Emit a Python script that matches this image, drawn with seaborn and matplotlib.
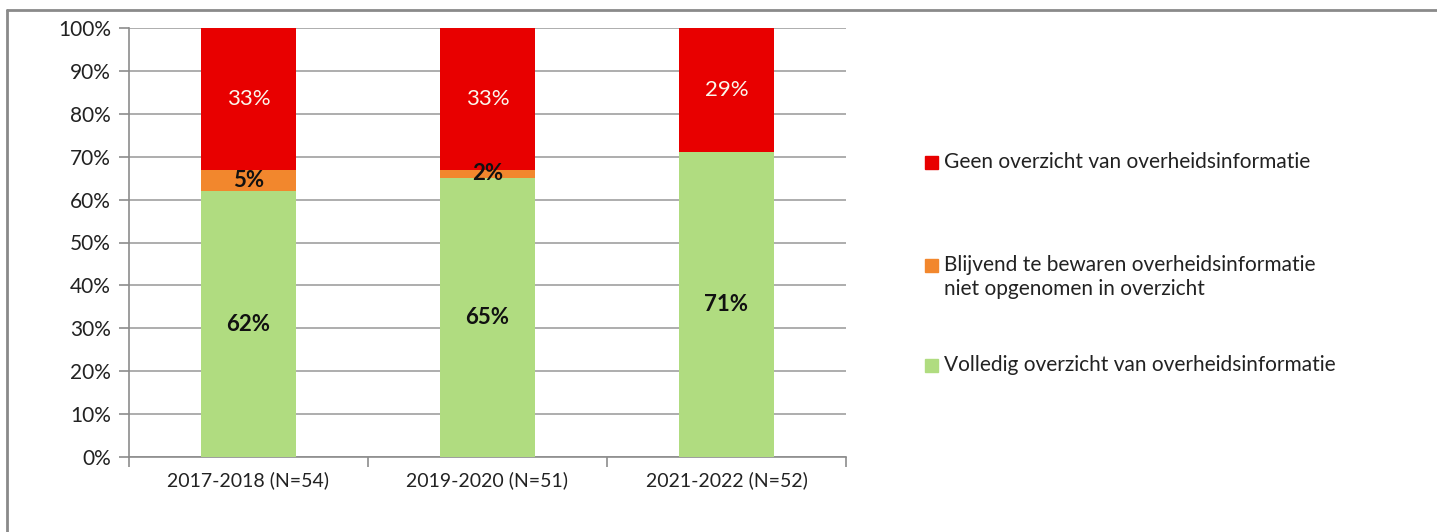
import matplotlib
matplotlib.use("Agg")
import matplotlib.pyplot as plt
import seaborn as sns
import pandas as pd
from matplotlib.patches import Rectangle
from matplotlib.lines import Line2D

# data
periods = ["2017-2018 (N=54)", "2019-2020 (N=51)", "2021-2022 (N=52)"]
volledig = [62, 65, 71]
blijvend = [5, 2, 0]
geen = [33, 33, 29]
series_labels = [
    "Geen overzicht van overheidsinformatie",
    "Blijvend te bewaren overheidsinformatie\nniet opgenomen in overzicht",
    "Volledig overzicht van overheidsinformatie",
]
colors = ["#e80000", "#f2872d", "#b0dc80"]
yticks = list(range(0, 101, 10))

sns.set_theme(style="white")
plt.rcParams["font.family"] = ["Lato", "DejaVu Sans"]

df = pd.DataFrame({"period": periods, "volledig": volledig,
                   "blijvend": blijvend, "geen": geen})
df["top_blijvend"] = df["volledig"] + df["blijvend"]
df["top_geen"] = df["top_blijvend"] + df["geen"]

fig = plt.figure(figsize=(14.37, 5.32), dpi=100)
ax = fig.add_axes([129 / 1437, 1 - 457 / 532, (846 - 129) / 1437, (457 - 28) / 532])

# stacked bars: draw cumulative totals from top down
for col, c in zip(["top_geen", "top_blijvend", "volledig"], colors):
    sns.barplot(data=df, x="period", y=col, color=c, width=0.4,
                saturation=1, linewidth=0, ax=ax, zorder=3)

ax.set_ylim(0, 100)
ax.set_xlim(-0.5, 2.5)
ax.set_yticks(yticks)
ax.set_yticklabels([f"{t}%" for t in yticks])
ax.set_xlabel("")
ax.set_ylabel("")
ax.yaxis.grid(True, color="#a0a0a0", linewidth=1.2, zorder=0)
ax.set_axisbelow(True)

for s in ["top", "right"]:
    ax.spines[s].set_visible(False)
for s in ["left", "bottom"]:
    ax.spines[s].set_color("#8c8c8c")
    ax.spines[s].set_linewidth(1.2)

ax.tick_params(axis="y", length=7, color="#8c8c8c", width=1.2, left=True,
               labelsize=15, pad=6, labelcolor="#222222")
# x ticks at category borders, labels in the middle
ax.set_xticks([0, 1, 2])
ax.set_xticks([-0.5, 0.5, 1.5, 2.5], minor=True)
ax.tick_params(axis="x", which="major", length=0, labelsize=14, pad=10,
               labelcolor="#222222")
ax.tick_params(axis="x", which="minor", length=7, color="#8c8c8c", width=1.2,
               bottom=True)

# value labels
for i in range(len(periods)):
    ax.text(i, volledig[i] / 2, f"{volledig[i]}%", ha="center", va="center",
            fontsize=16, fontweight="bold", color="#111111", zorder=5)
    if blijvend[i] > 0:
        ax.text(i, volledig[i] + blijvend[i] / 2, f"{blijvend[i]}%", ha="center",
                va="center", fontsize=16, fontweight="bold", color="#111111",
                zorder=5)
    ax.text(i, 100 - geen[i] / 2, f"{geen[i]}%", ha="center", va="center",
            fontsize=16, color="#fbf6ec", zorder=5)

# legend (Excel style: key on first line of the entry)
leg_y = [163, 266, 366]
for lab, c, y in zip(series_labels, colors, leg_y):
    fig.patches.append(Rectangle((925 / 1437, 1 - (y + 6) / 532), 13 / 1437, 13 / 532,
                                 transform=fig.transFigure, color=c, figure=fig))
    fig.text(944 / 1437, 1 - (y - 11) / 532, lab, ha="left", va="top",
             fontsize=15, color="#222222", linespacing=1.25)

# outer frame (top and left only)
fig.add_artist(Line2D([7 / 1437, 7 / 1437], [0, 1 - 10 / 532],
                      transform=fig.transFigure, color="#8a8a8a", linewidth=2))
fig.add_artist(Line2D([7 / 1437, 1], [1 - 10 / 532, 1 - 10 / 532],
                      transform=fig.transFigure, color="#8a8a8a", linewidth=2))

fig.savefig("out.png", dpi=100)
